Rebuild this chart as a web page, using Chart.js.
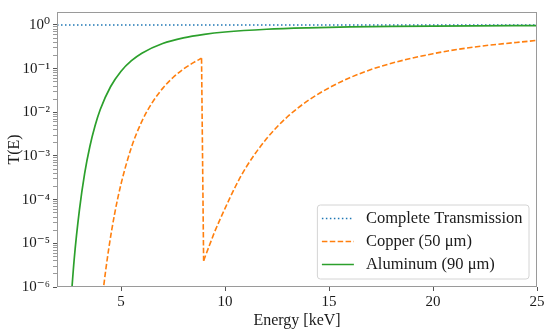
<!DOCTYPE html>
<html>
<head>
<meta charset="utf-8">
<script src="https://cdn.jsdelivr.net/npm/chart.js@4.4.1/dist/chart.umd.min.js"></script>
<style>
    html, body { margin: 0; padding: 0; background: #fff; }
    #wrap { width: 550px; height: 335px; }
</style>
</head>
<body>
<div id="wrap"><canvas id="chart" width="550" height="335"></canvas></div>
<script>
// ---- Data ----
const energyMin = 1.92;
const energyMax = 25;
const xTickValues = [5, 10, 15, 20, 25];
const yTickDecades = [1e-6, 1e-5, 1e-4, 1e-3, 1e-2, 1e-1, 1e0];
const yTickLabels = ['10⁻⁶', '10⁻⁵', '10⁻⁴', '10⁻³', '10⁻²', '10⁻¹', '10⁰'];
const yMinorFactors = [2, 3, 4, 5, 6, 7, 8, 9];

const completeE = [1.92, 25];
const completeT = [1, 1];

// copper, below the K edge
const copperBelowE = [4.0, 4.16, 4.4, 4.7, 5.0, 5.5, 6.0, 6.5, 7.0, 7.5, 8.0, 8.5, 8.87];
const copperBelowT = [2.1e-7, 1e-6, 7.1e-6, 5.0e-5, 2.3e-4, 1.58e-3, 6.2e-3, 0.0167, 0.0353, 0.0626, 0.0978, 0.139, 0.173];
// copper, above the K edge
const copperAboveE = [8.97, 9.25, 9.5, 10.0, 10.5, 11.0, 12.0, 13.0, 14.0, 15.0, 16.0, 17.5, 20.0, 22.0, 25.0];
const copperAboveT = [4e-6, 9.0e-6, 1.83e-5, 6.3e-5, 2.0e-4, 5.4e-4, 2.5e-3, 7.9e-3, 0.0187, 0.0363, 0.062, 0.113, 0.22, 0.313, 0.443];

const aluminumE = [2.5, 2.75, 3.0, 3.25, 3.5, 3.75, 4.0, 4.5, 5.0, 5.5, 6, 7, 8, 9, 10, 12, 14, 16, 18, 20, 22, 25];
const aluminumT = [1.2e-7, 4.5e-6, 5.9e-5, 4.0e-4, 1.65e-3, 4.9e-3, 0.0116, 0.039, 0.0875, 0.152, 0.226, 0.376, 0.506, 0.609, 0.689, 0.797, 0.861, 0.901, 0.927, 0.945, 0.957, 0.969];

const FONT = "'Liberation Serif', 'DejaVu Serif', serif";
const TEXT_COLOR = '#1a1a1a';

function toPoints(xs, ys) {
    return xs.map(function (x, i) { return { x: x, y: ys[i] }; });
}

// frame round the plot area (all four spines)
const framePlugin = {
    id: 'frame',
    afterDatasetsDraw: function (chart) {
        const a = chart.chartArea;
        const ctx = chart.ctx;
        ctx.save();
        ctx.strokeStyle = '#9a9a9a';
        ctx.lineWidth = 1;
        ctx.strokeRect(Math.round(a.left) + 0.5, Math.round(a.top) + 0.5,
            Math.round(a.right - a.left) - 1, Math.round(a.bottom - a.top) - 1);
        ctx.restore();
    }
};

// legend drawn inside the plot area, lower right
const insideLegend = {
    id: 'insideLegend',
    afterDraw: function (chart) {
        const ctx = chart.ctx;
        const a = chart.chartArea;
        const items = chart.data.datasets.filter(function (d) { return d.label; });
        ctx.save();
        ctx.font = '16.5px ' + FONT;
        let maxW = 0;
        items.forEach(function (d) { maxW = Math.max(maxW, ctx.measureText(d.label).width); });
        const sampleLen = 32, padL = 4.5, gap = 12, padR = 6.5, rowH = 23;
        const boxW = padL + sampleLen + gap + maxW + padR;
        const boxH = 74;
        const right = a.right - 8;
        const bottom = a.bottom - 8;
        const left = right - boxW;
        const top = bottom - boxH;

        ctx.beginPath();
        ctx.roundRect(left, top, boxW, boxH, 3);
        ctx.fillStyle = 'rgba(255,255,255,0.85)';
        ctx.fill();
        ctx.strokeStyle = '#d4d4d4';
        ctx.lineWidth = 1;
        ctx.stroke();

        items.forEach(function (d, i) {
            const cy = top + 13.5 + i * rowH;
            ctx.beginPath();
            ctx.setLineDash(d.borderDash || []);
            ctx.strokeStyle = d.borderColor;
            ctx.lineWidth = d.borderWidth;
            ctx.moveTo(left + padL, cy);
            ctx.lineTo(left + padL + sampleLen, cy);
            ctx.stroke();
            ctx.setLineDash([]);
            ctx.fillStyle = TEXT_COLOR;
            ctx.textBaseline = 'middle';
            ctx.textAlign = 'left';
            ctx.fillText(d.label, left + padL + sampleLen + gap, cy);
        });
        ctx.restore();
    }
};

const copperStyle = {
    borderColor: '#ff7f0e',
    borderDash: [5.5, 2.4],
    borderWidth: 1.6,
    pointRadius: 0,
    order: 1
};

const copperEdge = [
    { x: copperBelowE[copperBelowE.length - 1], y: copperBelowT[copperBelowT.length - 1] },
    { x: copperAboveE[0], y: copperAboveT[0] }
];

const el = document.getElementById('chart');
new Chart(el.getContext('2d'), {
    type: 'line',
    data: {
        datasets: [
            {
                label: 'Complete Transmission',
                data: toPoints(completeE, completeT),
                borderColor: '#1f77b4',
                borderDash: [1.5, 2.5],
                borderWidth: 1.6,
                pointRadius: 0,
                order: 2
            },
            Object.assign({
                label: 'Copper (50 μm)',
                data: toPoints(copperBelowE, copperBelowT),
                cubicInterpolationMode: 'monotone'
            }, copperStyle),
            Object.assign({ data: copperEdge }, copperStyle),
            Object.assign({
                data: toPoints(copperAboveE, copperAboveT),
                cubicInterpolationMode: 'monotone'
            }, copperStyle),
            {
                label: 'Aluminum (90 μm)',
                data: toPoints(aluminumE, aluminumT),
                borderColor: '#2ca02c',
                borderWidth: 1.7,
                pointRadius: 0,
                cubicInterpolationMode: 'monotone',
                order: 0
            }
        ]
    },
    options: {
        responsive: false,
        animation: false,
        layout: { padding: { left: 0, right: 13, top: 11, bottom: 0 } },
        plugins: {
            legend: { display: false },
            tooltip: { enabled: false }
        },
        scales: {
            x: {
                type: 'linear',
                min: energyMin,
                max: energyMax,
                afterBuildTicks: function (scale) {
                    scale.ticks = xTickValues.map(function (v) { return { value: v }; });
                },
                afterFit: function (scale) { scale.height = 48; },
                ticks: {
                    autoSkip: false,
                    maxRotation: 0,
                    padding: 2,
                    color: TEXT_COLOR,
                    font: { family: FONT, size: 15 }
                },
                grid: { drawOnChartArea: false, tickLength: 4, tickColor: '#555', tickWidth: 1 },
                border: { display: false },
                title: {
                    display: true,
                    text: 'Energy [keV]',
                    color: TEXT_COLOR,
                    padding: 5,
                    font: { family: FONT, size: 16 }
                }
            },
            y: {
                type: 'logarithmic',
                min: 1e-6,
                max: 1.98,
                afterBuildTicks: function (scale) {
                    const ticks = [];
                    yTickDecades.forEach(function (d, i) {
                        ticks.push({ value: d, major: true });
                        if (i < yTickDecades.length - 1) {
                            yMinorFactors.forEach(function (f) { ticks.push({ value: d * f, major: false }); });
                        }
                    });
                    scale.ticks = ticks;
                },
                afterFit: function (scale) { scale.width = 57; },
                ticks: {
                    autoSkip: false,
                    padding: 3,
                    color: TEXT_COLOR,
                    font: { family: FONT, size: 15 },
                    callback: function (value) {
                        const k = yTickDecades.findIndex(function (d) { return Math.abs(d - value) / d < 1e-6; });
                        return k >= 0 ? yTickLabels[k] : '';
                    }
                },
                grid: {
                    drawOnChartArea: false,
                    tickLength: 4,
                    tickColor: '#555',
                    tickWidth: function (ctx) { return ctx.tick && ctx.tick.major ? 1 : 0.6; }
                },
                border: { display: false },
                title: {
                    display: true,
                    text: 'T(E)',
                    color: TEXT_COLOR,
                    padding: 5,
                    font: { family: FONT, size: 16 }
                }
            }
        }
    },
    plugins: [framePlugin, insideLegend]
});
</script>
</body>
</html>
